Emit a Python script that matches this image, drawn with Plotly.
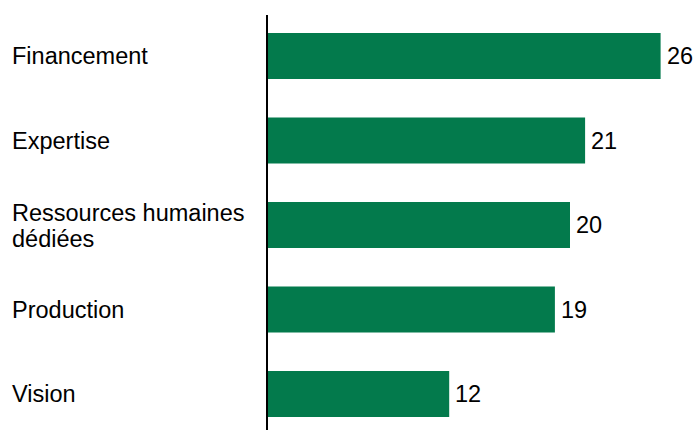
import plotly.graph_objects as go

categories = ["Financement", "Expertise", "Ressources humaines<br>dédiées", "Production", "Vision"]
values = [26, 21, 20, 19, 12]

BAR_COLOR = "#037A4C"
FONT = "Liberation Sans, Arial, sans-serif"
FS = 23.5
LINE_H = 26

W, H = 695, 430
ML, MR, MT, MB = 268, 10, 15, 0
plot_w = W - ML - MR

positions = list(range(len(categories)))

fig = go.Figure(go.Bar(
    x=values, y=positions, orientation="h",
    marker=dict(color=BAR_COLOR, line=dict(width=0)),
    width=0.545, hoverinfo="skip",
))

annotations = []
for pos, cat in zip(positions, categories):
    lines = cat.split("<br>")
    n = len(lines)
    for j, line in enumerate(lines):
        annotations.append(dict(
            x=(10 - ML) / plot_w, xref="paper", xanchor="left",
            y=pos, yref="y", yanchor="middle",
            yshift=-(j - (n - 1) / 2) * LINE_H + (-1 if n > 1 else 0),
            text=line, align="left", showarrow=False,
            font=dict(family=FONT, size=FS, color="#000000"),
        ))
for pos, v in zip(positions, values):
    annotations.append(dict(
        x=v, xref="x", xanchor="left", xshift=4,
        y=pos, yref="y", yanchor="middle",
        text=str(v), showarrow=False,
        font=dict(family=FONT, size=FS, color="#000000"),
    ))

fig.update_layout(
    width=W, height=H,
    margin=dict(l=ML, r=MR, t=MT, b=MB, pad=0),
    paper_bgcolor="white", plot_bgcolor="white",
    showlegend=False,
    annotations=annotations,
    xaxis=dict(range=[0, plot_w / 15.1], visible=False, fixedrange=True),
    yaxis=dict(range=[4.425, -0.485], showticklabels=False, showgrid=False,
               zeroline=False, showline=True, linecolor="#000000", linewidth=1.5,
               ticks="", fixedrange=True),
)

fig.write_html(
    "out.html",
    config={"displayModeBar": False},
    post_script="document.body.style.margin='0';document.body.style.overflow='hidden';",
)
